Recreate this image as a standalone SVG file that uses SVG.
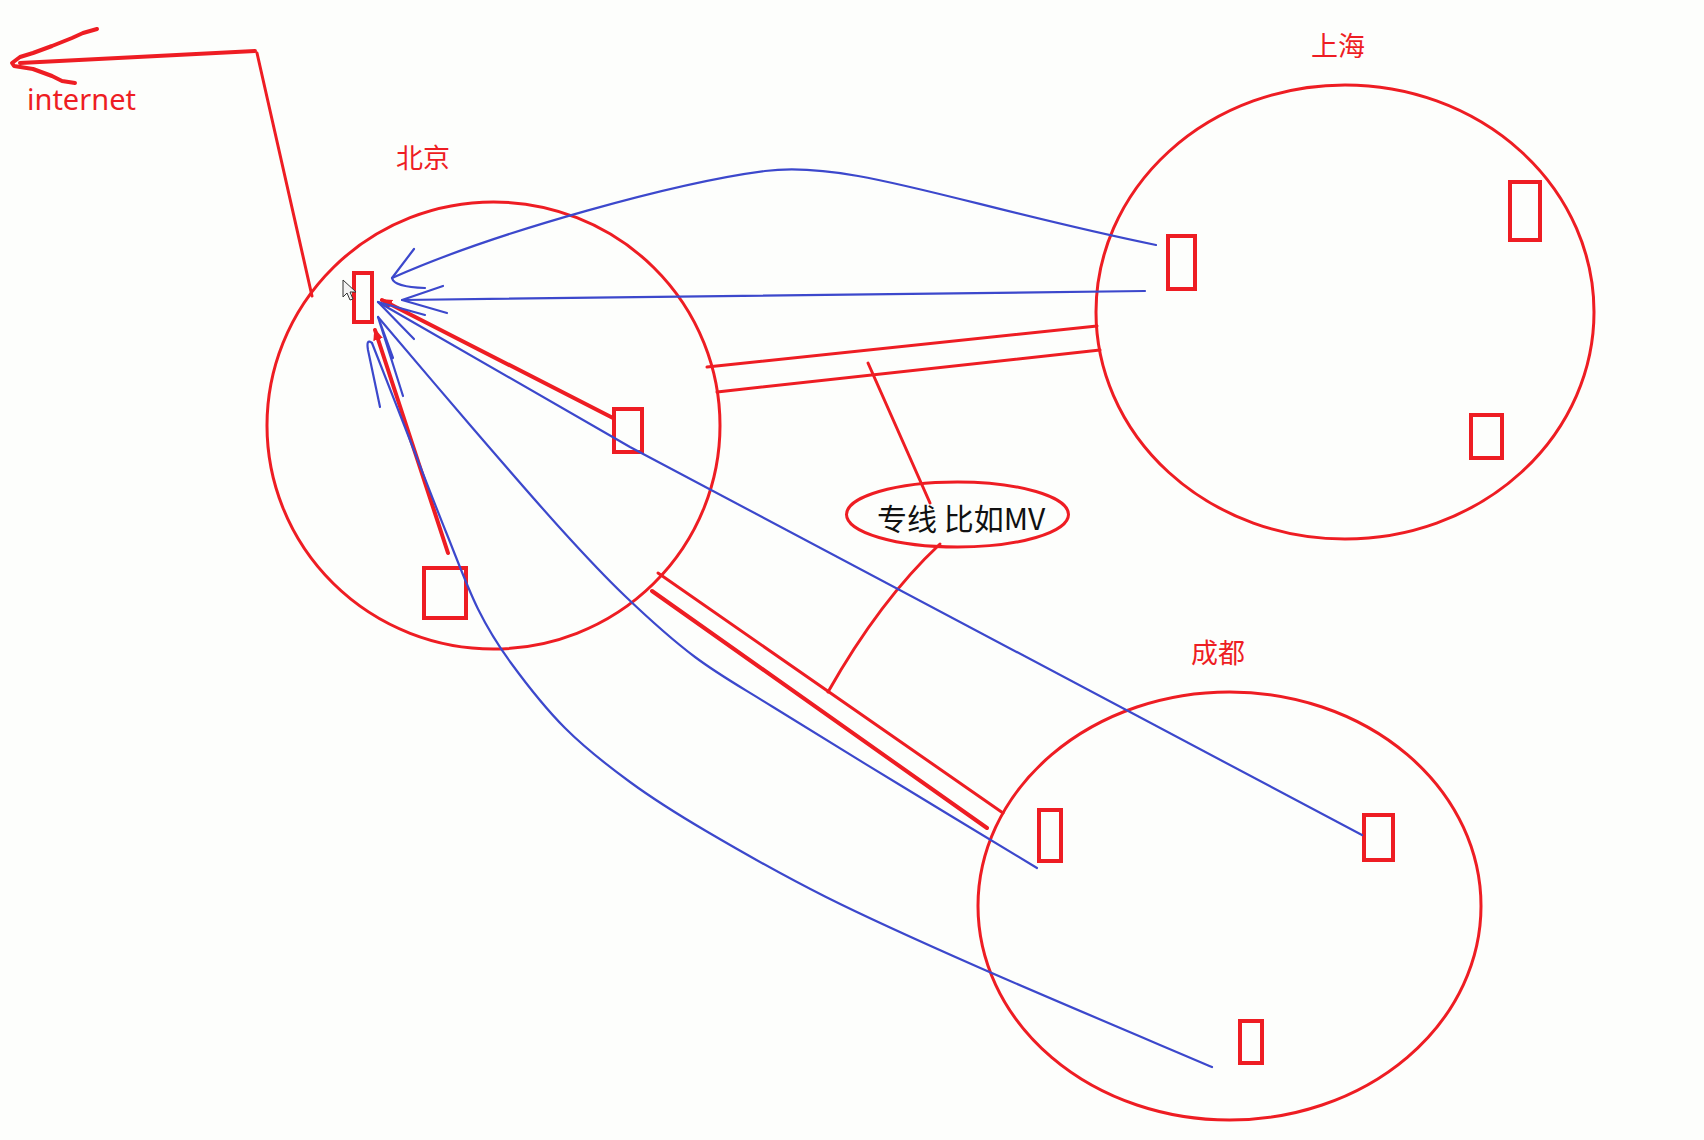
<svg xmlns="http://www.w3.org/2000/svg" width="1704" height="1140" viewBox="0 0 1704 1140">
<style>
.r{fill:none;stroke:#ee1d23;stroke-width:3;stroke-linecap:round;stroke-linejoin:round}
.rt{fill:none;stroke:#ee1d23;stroke-width:4;stroke-linecap:round;stroke-linejoin:round}
.box{fill:none;stroke:#ee1d23;stroke-width:4}
.b{fill:none;stroke:#3c48cc;stroke-width:2.2;stroke-linecap:round;stroke-linejoin:round}
.city{font-family:"Noto Sans CJK SC","Noto Sans",sans-serif;font-size:27px;fill:#ee1d23}
.lbl{font-family:"Noto Sans CJK SC","Noto Sans",sans-serif;font-size:30px;fill:#111}
.net{font-family:"Noto Sans","Open Sans",sans-serif;font-size:29px;fill:#ee1d23}
</style>
<defs>
<marker id="rtip" markerWidth="14" markerHeight="12" refX="10" refY="5" orient="auto" markerUnits="userSpaceOnUse">
<path d="M0,0 L12,5 L0,10 Z" fill="#ee1d23"/>
</marker>
</defs>
<rect width="1704" height="1140" fill="#fdfefc"/>

<g id="beijing">
<ellipse class="r" cx="493.5" cy="425.5" rx="226.5" ry="223.5"/>
<text class="city" x="396" y="168">北京</text>
<rect class="box" x="354" y="273" width="18" height="49"/>
<rect class="box" x="614" y="409" width="28" height="43"/>
<rect class="box" x="424" y="568" width="42" height="50"/>
<path d="M343,280 L343,297 L347,293 L350,300 L353,299 L350,292 L356,292 Z" fill="#f4f4f4" stroke="#333" stroke-width="1"/>
</g>

<g id="shanghai">
<ellipse class="r" cx="1345" cy="312" rx="249" ry="227"/>
<text class="city" x="1311" y="56">上海</text>
<rect class="box" x="1168" y="236" width="27" height="53"/>
<rect class="box" x="1510" y="182" width="30" height="58"/>
<rect class="box" x="1471" y="415" width="31" height="43"/>
</g>

<g id="chengdu">
<ellipse class="r" cx="1229.5" cy="906" rx="251.5" ry="214"/>
<text class="city" x="1191" y="663">成都</text>
<rect class="box" x="1039" y="810" width="22" height="51"/>
<rect class="box" x="1364" y="815" width="29" height="45"/>
<rect class="box" x="1240" y="1021" width="22" height="42"/>
</g>

<g id="internet">
<text class="net" x="27" y="110">internet</text>
</g>

<g id="note">
<ellipse class="r" cx="957.5" cy="514.5" rx="111" ry="32.5"/>
<text class="lbl" x="877" y="530">专线 比如MV</text>
</g>

<g id="connectors">
<!-- internet -->
<path class="rt" d="M255,51 L20,63"/>
<path class="rt" d="M97,29 L83,33 L72,38 L52,46 L33,53 L20,57 L12,63 L14,66 L33,69 L52,76 L62,81 L75,83"/>
<path class="r" d="M257,53 L312,296"/>
<!-- dedicated lines -->
<path class="r" d="M707,367 L1097,326"/>
<path class="r" d="M717,392 L1100,350"/>
<path class="r" d="M658,573 L1003,813"/>
<path class="rt" d="M652,591 L987,828"/>
<path class="r" d="M868,363 Q898,430 930,503"/>
<path class="r" d="M940,544 Q880,600 828,692"/>
<!-- red arrows inside Beijing -->
<path class="rt" d="M613,418 L382,300" marker-end="url(#rtip)"/>
<path class="rt" d="M448,553 L375,330" marker-end="url(#rtip)"/>
<!-- blue: Shanghai curve -->
<path class="b" d="M1156,245 C960,205 850,160 765,171 S500,230 392,278"/>
<path class="b" d="M414,249 L392,278 Q394,287 425,288"/>
<!-- blue: Shanghai straight -->
<path class="b" d="M1145,291 L402,300"/>
<path class="b" d="M443,286 L402,300 L447,313"/>
<!-- blue: Chengdu rect2 -->
<path class="b" d="M1362,835 L630,447 L378,302"/>
<path class="b" d="M425,315 L378,302 L414,339"/>
<!-- blue: Chengdu rect1 -->
<path class="b" d="M378,317 C393.3,335 439.7,389.8 470,425 C500.3,460.2 534.2,499.5 560,528 C585.8,556.5 602.5,574.5 625,596 C647.5,617.5 670.3,638.5 695,657 C719.7,675.5 738.8,685.7 773,707 C807.2,728.3 856,758.2 900,785 C944,811.8 1014.2,854.2 1037,868"/>
<path class="b" d="M393,358 L378,317 L403,396"/>
<!-- blue: Chengdu rect3 -->
<path class="b" d="M372,343 C378,358.3 395.7,403.5 408,435 C420.3,466.5 434.3,503 446,532 C457.7,561 467.2,587.2 478,609 C488.8,630.8 496.5,643.2 511,663 C525.5,682.8 545.2,708.2 565,728 C584.8,747.8 606.5,764.8 630,782 C653.5,799.2 673.3,811.8 706,831 C738.7,850.2 780.7,874.3 826,897 C871.3,919.7 913.7,938.7 978,967 C1042.3,995.3 1173,1050.3 1212,1067"/>
<path class="b" d="M372,343 Q366,338 368,350 L380,407"/>
</g>
</svg>
